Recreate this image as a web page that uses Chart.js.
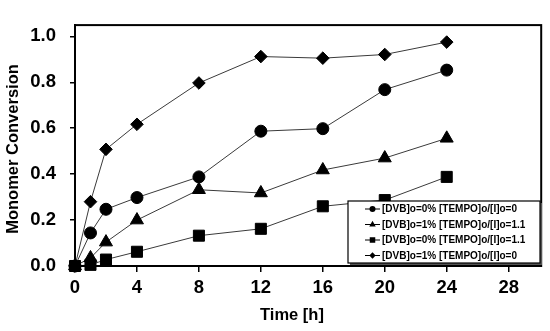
<!DOCTYPE html>
<html>
<head>
<meta charset="utf-8">
<script src="https://cdn.jsdelivr.net/npm/chart.js@4/dist/chart.umd.min.js"></script>
<style>
  html, body { margin: 0; padding: 0; background: #fff; }
  #wrap { width: 550px; height: 331px; position: relative; }
</style>
</head>
<body>
<div id="wrap"><canvas id="c"></canvas></div>
<script>
const hours = [0, 1, 2, 4, 8, 12, 16, 20, 24];
const convDvb0Tempo0 = [0, 0.144, 0.247, 0.298, 0.388, 0.587, 0.598, 0.768, 0.853];
const convDvb1Tempo11 = [0, 0.035, 0.104, 0.2, 0.332, 0.318, 0.418, 0.47, 0.556];
const convDvb0Tempo11 = [0, 0.005, 0.028, 0.062, 0.132, 0.162, 0.26, 0.287, 0.388];
const convDvb1Tempo0 = [0, 0.28, 0.508, 0.617, 0.797, 0.912, 0.905, 0.921, 0.975];

const seriesLabels = [
  "[DVB]o=0% [TEMPO]o/[I]o=0",
  "[DVB]o=1% [TEMPO]o/[I]o=1.1",
  "[DVB]o=0% [TEMPO]o/[I]o=1.1",
  "[DVB]o=1% [TEMPO]o/[I]o=0",
];
const xTitle = "Time [h]";
const yTitle = "Monomer Conversion";

const FONT = "'Liberation Sans', Arial, sans-serif";

function toPoints(ys) {
  return hours.map((h, i) => ({ x: h, y: ys[i] }));
}

function series(label, ys, style, radius) {
  return {
    label,
    data: toPoints(ys),
    showLine: true,
    borderColor: "#3a3a3a",
    borderWidth: 1,
    pointStyle: style,
    pointRadius: radius,
    pointHoverRadius: radius,
    pointBackgroundColor: "#000",
    pointBorderColor: "#000",
    pointBorderWidth: 1,
    clip: false,
    legendRadius: radius * 0.5,
  };
}

const datasets = [
  series(seriesLabels[0], convDvb0Tempo0, "circle", 6),
  series(seriesLabels[1], convDvb1Tempo11, "triangle", 7.5),
  series(seriesLabels[2], convDvb0Tempo11, "rect", 7.8),
  series(seriesLabels[3], convDvb1Tempo0, "rectRot", 6.3),
];

// box around the plot, axis titles and the inset legend
const framePlugin = {
  id: "frame",
  afterDraw(chart) {
    const { ctx, chartArea: a } = chart;
    ctx.save();
    ctx.strokeStyle = "#000";
    ctx.lineWidth = 2;
    ctx.strokeRect(a.left, a.top, a.right - a.left, a.bottom - a.top);

    ctx.fillStyle = "#000";
    ctx.font = `bold 16.5px ${FONT}`;
    ctx.textAlign = "center";
    ctx.textBaseline = "middle";
    ctx.fillText(xTitle, 292, 315);
    ctx.translate(13, 149);
    ctx.rotate(-Math.PI / 2);
    ctx.fillText(yTitle, 0, 0);
    ctx.restore();

    // legend
    const lx = 348, ly = 201, lw = 192, lh = 62;
    ctx.save();
    ctx.fillStyle = "#555";
    ctx.fillRect(lx + 2, ly + 2, lw, lh);
    ctx.fillStyle = "#fff";
    ctx.fillRect(lx, ly, lw, lh);
    ctx.strokeStyle = "#000";
    ctx.lineWidth = 1.2;
    ctx.strokeRect(lx, ly, lw, lh);
    ctx.font = `bold 10px ${FONT}`;
    ctx.textAlign = "left";
    ctx.textBaseline = "middle";
    chart.data.datasets.forEach((ds, i) => {
      const y = ly + 8 + i * 15.5;
      ctx.strokeStyle = "#000";
      ctx.lineWidth = 1;
      ctx.beginPath();
      ctx.moveTo(lx + 17, y);
      ctx.lineTo(lx + 32, y);
      ctx.stroke();
      ctx.fillStyle = "#000";
      Chart.helpers.drawPoint(ctx, {
        pointStyle: ds.pointStyle,
        radius: ds.legendRadius,
        rotation: 0,
        borderWidth: 0,
      }, lx + 24.5, y);
      ctx.fillStyle = "#000";
      ctx.fillText(ds.label, lx + 34, y + 0.5);
    });
    ctx.restore();
  },
};

const tickFont = { family: FONT, size: 18.5, weight: "bold" };

new Chart(document.getElementById("c"), {
  type: "scatter",
  data: { datasets },
  plugins: [framePlugin],
  options: {
    animation: false,
    responsive: true,
    maintainAspectRatio: false,
    layout: { padding: { top: 11, right: 5, left: 0, bottom: 0 } },
    plugins: {
      legend: { display: false },
      tooltip: { enabled: false },
    },
    scales: {
      x: {
        type: "linear",
        min: 0,
        max: 30.1,
        afterFit(scale) { scale.height = 65; },
        ticks: {
          stepSize: 4,
          includeBounds: false,
          color: "#000",
          font: tickFont,
          padding: 5,
          maxRotation: 0,
        },
        grid: {
          drawOnChartArea: false,
          drawTicks: true,
          tickLength: 6,
          color: "#000",
          lineWidth: 1.5,
        },
        border: { display: true, color: "#000", width: 2 },
        title: { display: false },
      },
      y: {
        type: "linear",
        min: 0,
        max: 1.049,
        afterFit(scale) { scale.width = 75; },
        ticks: {
          stepSize: 0.2,
          includeBounds: false,
          color: "#000",
          font: tickFont,
          padding: 14,
          callback(v) { return Number(v).toFixed(1); },
        },
        grid: {
          drawOnChartArea: false,
          drawTicks: true,
          tickLength: 5,
          color: "#000",
          lineWidth: 1.5,
        },
        border: { display: true, color: "#000", width: 2 },
        title: { display: false },
      },
    },
  },
});
</script>
</body>
</html>
